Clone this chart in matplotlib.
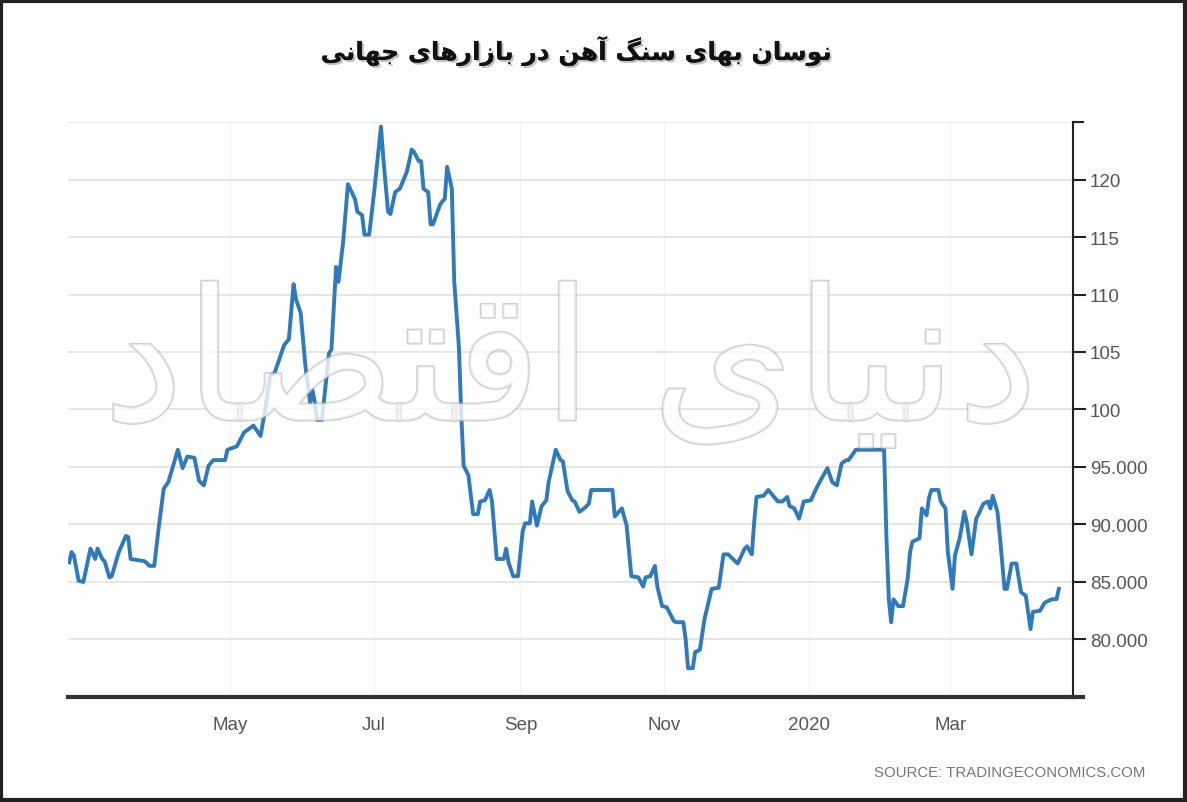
import numpy as np
import pandas as pd
import matplotlib
matplotlib.use('Agg')
import matplotlib.pyplot as plt
import matplotlib.dates as mdates
import matplotlib.patheffects as pe
from matplotlib.patches import Rectangle

# iron ore price, days counted from 2019-02-22
start = pd.Timestamp('2019-02-22')
days = [0, 1, 2, 4, 6, 9, 11, 12, 14, 15, 17, 18, 21, 24, 25, 26, 32, 34, 36, 38,
        40, 42, 44, 46, 48, 50, 53, 55, 57, 59, 61, 66, 67, 71, 74, 78, 81, 83, 85, 87,
        91, 93, 95, 96, 98, 100, 102, 103, 104, 105, 107, 110, 111, 113, 114, 116, 118, 121, 122, 124,
        125, 127, 129, 132, 133, 135, 136, 138, 140, 143, 145, 146, 148, 149, 150, 152, 153, 154, 157, 158,
        159, 160, 162, 163, 165, 166, 167, 169, 171, 173, 174, 176, 178, 179, 181, 184, 185, 186, 188, 190,
        192, 193, 195, 196, 198, 200, 202, 203, 206, 208, 209, 211, 213, 214, 216, 218, 220, 221, 230, 231,
        234, 236, 238, 241, 243, 244, 246, 248, 249, 251, 253, 256, 257, 260, 261, 262, 264, 265, 267, 269,
        272, 275, 277, 279, 280, 281, 283, 286, 287, 289, 290, 291, 294, 296, 298, 300, 302, 304, 305, 307,
        309, 311, 314, 316, 318, 321, 323, 325, 327, 329, 330, 333, 345, 346, 347, 348, 349, 351, 353, 355,
        356, 357, 360, 361, 363, 364, 365, 368, 369, 371, 372, 374, 375, 377, 379, 380, 382, 384, 385, 387,
        389, 390, 391, 393, 394, 396, 397, 399, 401, 403, 405, 407, 408, 411, 413, 416, 418, 419]
price = [86.7, 87.6, 87.3, 85.1, 85.0, 87.9, 87.0, 87.9, 87.0, 86.8, 85.4, 85.5, 87.6, 89.0, 88.9, 87.0, 86.8, 86.4, 86.4, 89.9,
         93.1, 93.7, 95.1, 96.5, 94.9, 95.9, 95.8, 93.8, 93.4, 95.1, 95.6, 95.6, 96.5, 96.8, 98.0, 98.6, 97.7, 100.0, 102.9, 103.2,
         105.6, 106.1, 110.9, 109.6, 108.4, 103.8, 100.6, 101.7, 100.6, 99.1, 99.1, 104.9, 105.2, 112.4, 111.1, 114.6, 119.6, 118.3, 117.2, 116.9,
         115.2, 115.2, 118.7, 124.6, 121.8, 117.2, 117.0, 118.9, 119.2, 120.7, 122.6, 122.4, 121.6, 121.6, 119.2, 118.9, 116.1, 116.1, 117.8, 118.1,
         118.3, 121.1, 119.2, 111.2, 105.4, 99.5, 95.1, 94.3, 90.9, 90.9, 92.0, 92.1, 93.0, 92.0, 87.0, 87.0, 87.9, 86.7, 85.5, 85.5,
         89.4, 90.1, 90.1, 92.0, 89.9, 91.6, 92.1, 93.7, 96.5, 95.6, 95.5, 92.9, 92.1, 92.0, 91.1, 91.4, 91.8, 93.0, 93.0, 90.7,
         91.4, 89.9, 85.5, 85.4, 84.6, 85.4, 85.5, 86.4, 84.6, 82.9, 82.8, 81.6, 81.5, 81.5, 80.0, 77.5, 77.5, 78.9, 79.1, 81.8,
         84.4, 84.5, 87.4, 87.4, 87.2, 87.0, 86.6, 87.9, 88.1, 87.4, 90.2, 92.4, 92.5, 93.0, 92.5, 92.0, 92.0, 92.4, 91.6, 91.4,
         90.5, 92.0, 92.1, 93.0, 93.8, 94.9, 93.7, 93.4, 95.3, 95.6, 95.6, 96.5, 96.5, 88.8, 83.5, 81.5, 83.5, 82.9, 82.9, 85.3,
         87.6, 88.5, 88.8, 91.4, 90.8, 92.3, 93.0, 93.0, 92.0, 91.4, 87.6, 84.4, 87.3, 88.8, 91.1, 90.2, 87.4, 90.5, 90.9, 91.8,
         92.0, 91.4, 92.5, 91.1, 89.0, 84.4, 84.4, 86.6, 86.6, 84.1, 83.8, 80.9, 82.4, 82.5, 83.2, 83.5, 83.5, 84.4]

yticks = [80, 85, 90, 95, 100, 105, 110, 115, 120]
ylabels = ['80.000', '85.000', '90.000', '95.000', '100', '105', '110', '115', '120']
xticks = ['2019-05-01', '2019-07-01', '2019-09-01', '2019-11-01', '2020-01-01', '2020-03-01']
xlabels = ['May', 'Jul', 'Sep', 'Nov', '2020', 'Mar']

title = 'نوسان بهای سنگ آهن در بازارهای جهانی'
watermark = 'دنیای اقتصاد'
source = 'SOURCE: TRADINGECONOMICS.COM'

# tiny arabic shaper (matplotlib has no shaping/bidi): iso, fin, init, med
FORMS = {
    'ا': ('\uFE8D', '\uFE8E', None, None),
    'آ': ('\uFE81', '\uFE82', None, None),
    'ب': ('\uFE8F', '\uFE90', '\uFE91', '\uFE92'),
    'ت': ('\uFE95', '\uFE96', '\uFE97', '\uFE98'),
    'ج': ('\uFE9D', '\uFE9E', '\uFE9F', '\uFEA0'),
    'د': ('\uFEA9', '\uFEAA', None, None),
    'ر': ('\uFEAD', '\uFEAE', None, None),
    'ز': ('\uFEAF', '\uFEB0', None, None),
    'س': ('\uFEB1', '\uFEB2', '\uFEB3', '\uFEB4'),
    'ص': ('\uFEB9', '\uFEBA', '\uFEBB', '\uFEBC'),
    'ق': ('\uFED5', '\uFED6', '\uFED7', '\uFED8'),
    'ن': ('\uFEE5', '\uFEE6', '\uFEE7', '\uFEE8'),
    'ه': ('\uFEE9', '\uFEEA', '\uFEEB', '\uFEEC'),
    'و': ('\uFEED', '\uFEEE', None, None),
    'ی': ('\uFBFC', '\uFBFD', '\uFBFE', '\uFBFF'),
    'گ': ('\uFB92', '\uFB93', '\uFB94', '\uFB95'),
}


def shape(text):
    out = []
    for i, c in enumerate(text):
        if c not in FORMS:
            out.append(c)
            continue
        iso, fin, ini, med = FORMS[c]
        prev = text[i - 1] if i > 0 else ''
        nxt = text[i + 1] if i + 1 < len(text) else ''
        jp = prev in FORMS and FORMS[prev][2] is not None
        jn = nxt in FORMS and ini is not None
        if jp and jn:
            out.append(med)
        elif jp:
            out.append(fin)
        elif jn:
            out.append(ini)
        else:
            out.append(iso)
    return ''.join(reversed(out))


dates = start + pd.to_timedelta(days, unit='D')

fig = plt.figure(figsize=(11.87, 8.03), dpi=100)
ax = fig.add_axes([0.0573, 0.1308, 0.8467, 0.716])

ax.plot(dates, price, color='#2f7abd', lw=2.8, solid_joinstyle='round', zorder=3)

ax.set_ylim(75, 125)
ax.set_xlim(start - pd.Timedelta(days=0.5), pd.Timestamp('2020-04-22'))

ax.yaxis.tick_right()
ax.set_yticks(yticks)
ax.set_yticklabels(ylabels, fontsize=13.5, color='#555555', family='Liberation Sans')
ax.tick_params(axis='y', direction='out', length=9, width=1.5, color='#222222', pad=3)
ax.set_xticks(pd.to_datetime(xticks))
ax.set_xticklabels(xlabels, fontsize=13.5, color='#555555', family='Liberation Sans')
ax.tick_params(axis='x', length=0, pad=14)

ax.grid(axis='y', color='#e2e2e2', lw=1.2)
ax.grid(axis='x', color='#f4f4f4', lw=1)
ax.axhline(125, color='#e6e6e6', lw=1.2)
for s in ['top', 'left']:
    ax.spines[s].set_visible(False)
ax.spines['right'].set_color('#222222')
ax.spines['right'].set_linewidth(1.5)
ax.spines['bottom'].set_color('#333333')
ax.spines['bottom'].set_linewidth(3)
ax.plot([1.0, 1.01], [1.0, 1.0], transform=ax.transAxes, color='#222222', lw=1.5, clip_on=False)
ax.plot([1.0, 1.01], [0.0, 0.0], transform=ax.transAxes, color='#333333', lw=3, clip_on=False)

# watermark
wm = ax.text(0.5, 0.57, shape(watermark), transform=ax.transAxes, ha='center', va='center',
             fontsize=132, family='DejaVu Sans', color='white', alpha=0.55, zorder=4)
wm.set_path_effects([pe.withStroke(linewidth=1.8, foreground='#aaaaaa')])

t = fig.text(0.486, 0.935, shape(title), ha='center', va='center', fontsize=18,
             fontweight='bold', family='DejaVu Sans', color='#111111')
t.set_path_effects([pe.withSimplePatchShadow(offset=(1.5, -1.5), shadow_rgbFace='#999999', alpha=0.6), pe.Normal()])

fig.text(0.965, 0.037, source, ha='right', va='center', fontsize=10.8, color='#777777',
         family='Liberation Sans')

fig.patches.append(Rectangle((0.001, 0.002), 0.997, 0.995, transform=fig.transFigure,
                             fill=False, edgecolor='#222222', lw=3))

fig.savefig('out.png', dpi=100)
